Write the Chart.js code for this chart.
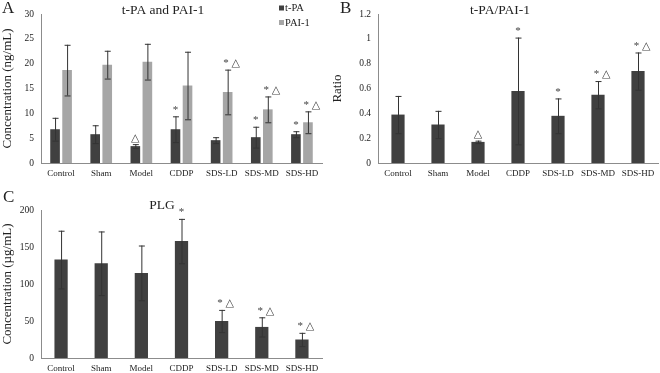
<!DOCTYPE html>
<html lang="en">
<head>
<meta charset="UTF-8">
<title>t-PA, PAI-1 and PLG</title>
<script src="https://cdn.jsdelivr.net/npm/chart.js"></script>
<style>
    body { margin: 0; background: #fff; }
    #wrap { position: relative; width: 660px; height: 373px; }
    .panel { position: absolute; }
</style>
</head>
<body>
<div id="wrap">
    <div class="panel" style="left:0;top:0;width:330px;height:185px"><canvas id="chartA"></canvas></div>
    <div class="panel" style="left:330px;top:0;width:330px;height:185px"><canvas id="chartB"></canvas></div>
    <div class="panel" style="left:0;top:185px;width:330px;height:188px"><canvas id="chartC"></canvas></div>
</div>
<script>
    const groups = ['Control', 'Sham', 'Model', 'CDDP', 'SDS-LD', 'SDS-MD', 'SDS-HD'];

    // panel A
    const tpa = [6.8, 5.8, 3.4, 6.8, 4.6, 5.2, 5.8];
    const tpaErr = [2.3, 1.8, 0.4, 2.6, 0.6, 2.1, 0.6];
    const tpaMarks = ['', '', '△', '*', '', '*', '*'];
    const pai = [18.7, 19.8, 20.4, 15.6, 14.3, 10.8, 8.2];
    const paiErr = [5.1, 2.8, 3.6, 6.8, 4.5, 2.6, 2.2];
    const paiMarks = ['', '', '', '', '* △', '* △', '* △'];

    // panel B
    const ratio = [0.39, 0.31, 0.17, 0.58, 0.38, 0.55, 0.74];
    const ratioErr = [0.15, 0.11, 0.01, 0.43, 0.14, 0.11, 0.15];
    const ratioMarks = ['', '', '△', '*', '*', '* △', '* △'];

    // panel C
    const plg = [133, 128, 115, 158, 50, 42, 25];
    const plgErr = [39, 43, 37, 30, 15, 13, 9];
    const plgMarks = ['', '', '', '*', '* △', '* △', '* △'];

    const DARK = '#404040';
    const LIGHT = '#a6a6a6';
    const AXIS = '#8c8c8c';
    const FONT = '"Liberation Serif", "DejaVu Serif", serif';

    // error bars + significance marks
    const errorBars = {
        id: 'errorBars',
        afterDatasetsDraw(chart) {
            const ctx = chart.ctx;
            const y = chart.scales.y;
            chart.data.datasets.forEach((ds, i) => {
                const meta = chart.getDatasetMeta(i);
                meta.data.forEach((bar, j) => {
                    const v = ds.data[j], e = ds.errs[j];
                    const top = y.getPixelForValue(v + e);
                    const bot = y.getPixelForValue(Math.max(v - e, 0));
                    ctx.save();
                    ctx.strokeStyle = '#333';
                    ctx.lineWidth = 1;
                    ctx.beginPath();
                    ctx.moveTo(bar.x + 0.5, top);
                    ctx.lineTo(bar.x + 0.5, bot);
                    ctx.moveTo(bar.x - 2.5, top + 0.5);
                    ctx.lineTo(bar.x + 3.5, top + 0.5);
                    ctx.moveTo(bar.x - 2.5, bot + 0.5);
                    ctx.lineTo(bar.x + 3.5, bot + 0.5);
                    ctx.stroke();
                    const m = ds.marks[j];
                    if (m) {
                        ctx.fillStyle = '#444';
                        ctx.textAlign = 'center';
                        ctx.textBaseline = 'bottom';
                        ctx.font = '11px ' + FONT;
                        ctx.fillText(m, bar.x + (m.length > 1 ? 4 : 0), top - 1);
                    }
                    ctx.restore();
                });
            });
        }
    };

    // panel letter, title, legend
    const decor = {
        id: 'decor',
        afterDraw(chart) {
            const o = chart.options.decor;
            const ctx = chart.ctx;
            ctx.save();
            ctx.fillStyle = '#222';
            ctx.textBaseline = 'middle';
            ctx.textAlign = 'left';
            ctx.font = '17px ' + FONT;
            ctx.fillText(o.letter, o.letterX, o.letterY);
            ctx.textAlign = 'center';
            ctx.font = '13.5px ' + FONT;
            ctx.fillText(o.title, o.titleX, o.titleY);
            if (o.legend) {
                ctx.textAlign = 'left';
                ctx.font = '10.5px ' + FONT;
                o.legend.forEach((it, k) => {
                    const ly = 8 + k * 14.5;
                    ctx.fillStyle = it.color;
                    ctx.fillRect(279, ly - 2.5, 5, 5);
                    ctx.fillStyle = '#222';
                    ctx.fillText(it.label, 285, ly + 0.5);
                });
            }
            ctx.restore();
        }
    };

    function makeChart(id, datasets, opts) {
        const ctx = document.getElementById(id).getContext('2d');
        return new Chart(ctx, {
            type: 'bar',
            data: { labels: groups, datasets: datasets },
            plugins: [errorBars, decor],
            options: {
                responsive: true,
                maintainAspectRatio: false,
                animation: false,
                layout: { padding: opts.padding },
                plugins: { legend: { display: false }, tooltip: { enabled: false } },
                decor: opts.decor,
                scales: {
                    x: {
                        grid: { display: false, drawTicks: false },
                        border: { color: AXIS },
                        ticks: { color: '#222', font: { family: FONT, size: 9 }, padding: 5, maxRotation: 0, autoSkip: false },
                        afterFit(s) { s.height = opts.xHeight; }
                    },
                    y: {
                        min: 0,
                        max: opts.max,
                        grid: { display: false, drawTicks: true, tickLength: 3, tickColor: AXIS },
                        border: { color: AXIS },
                        ticks: {
                            stepSize: opts.step,
                            color: '#222',
                            font: { family: FONT, size: 9.5 },
                            padding: 4,
                            callback: v => String(Math.round(v * 10) / 10)
                        },
                        title: { display: true, text: opts.yTitle, color: '#222', font: { family: FONT, size: 13 }, padding: 0 },
                        afterFit(s) { s.width = opts.yWidth; }
                    }
                }
            }
        });
    }

    makeChart('chartA', [
        { label: 't-PA', data: tpa, errs: tpaErr, marks: tpaMarks, backgroundColor: DARK, barPercentage: 0.8, categoryPercentage: 0.6 },
        { label: 'PAI-1', data: pai, errs: paiErr, marks: paiMarks, backgroundColor: LIGHT, barPercentage: 0.8, categoryPercentage: 0.6 }
    ], {
        max: 30, step: 5, yTitle: 'Concentration (ng/mL)', yWidth: 41, xHeight: 22,
        padding: { top: 14, right: 8, left: 0, bottom: 0 },
        decor: { letter: 'A', letterX: 2, letterY: 9, title: 't-PA and PAI-1', titleX: 163, titleY: 10,
            legend: [{ label: 't-PA', color: DARK }, { label: 'PAI-1', color: LIGHT }] }
    });

    makeChart('chartB', [
        { label: 't-PA/PAI-1', data: ratio, errs: ratioErr, marks: ratioMarks, backgroundColor: DARK, barPercentage: 0.33, categoryPercentage: 1 }
    ], {
        max: 1.2, step: 0.2, yTitle: 'Ratio', yWidth: 48, xHeight: 22,
        padding: { top: 14, right: 2, left: 0, bottom: 0 },
        decor: { letter: 'B', letterX: 10, letterY: 9, title: 't-PA/PAI-1', titleX: 170, titleY: 10 }
    });

    makeChart('chartC', [
        { label: 'PLG', data: plg, errs: plgErr, marks: plgMarks, backgroundColor: DARK, barPercentage: 0.33, categoryPercentage: 1 }
    ], {
        max: 200, step: 50, yTitle: 'Concentration (µg/mL)', yWidth: 41, xHeight: 15,
        padding: { top: 25, right: 8, left: 0, bottom: 0 },
        decor: { letter: 'C', letterX: 3, letterY: 13, title: 'PLG', titleX: 162, titleY: 20 }
    });
</script>
</body>
</html>
